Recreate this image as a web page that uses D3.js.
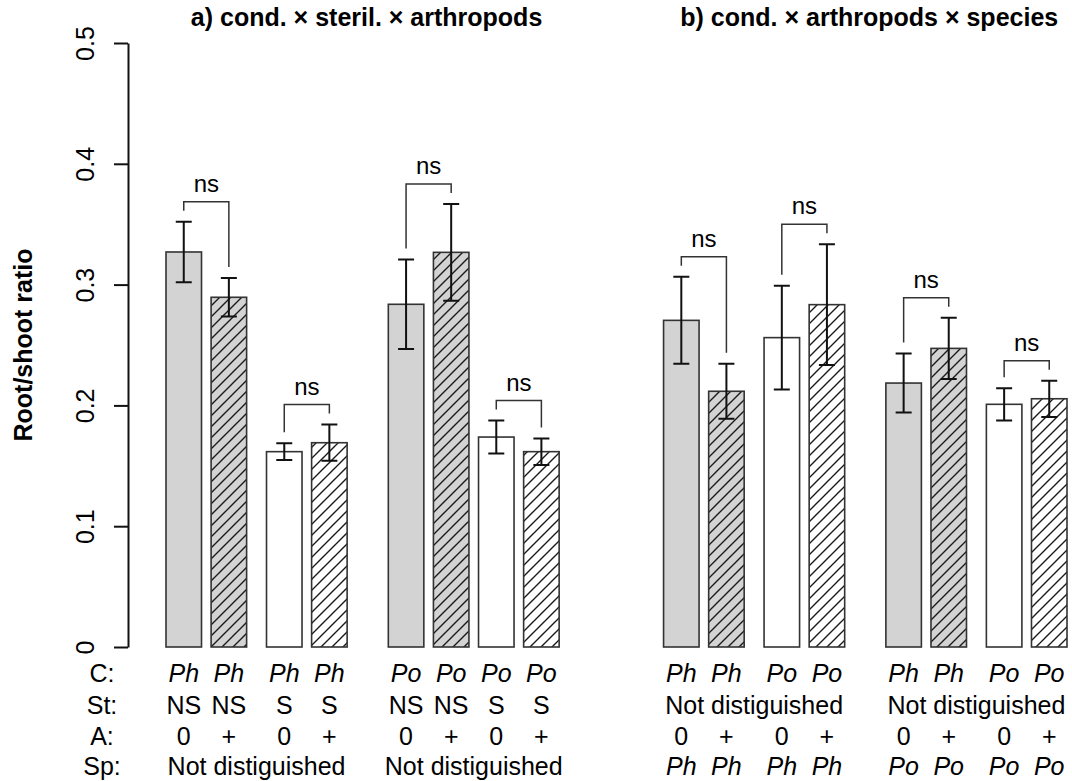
<!DOCTYPE html>
<html>
<head>
<meta charset="utf-8">
<script src="https://cdn.jsdelivr.net/npm/d3@7"></script>
<style>
  html, body { margin: 0; padding: 0; background: #fff; }
  svg { display: block; font-family: "Liberation Sans", Arial, Helvetica, sans-serif; }
</style>
</head>
<body>
<div id="chart"></div>
<script>
// ---- data ----
const panelTitles = ['a) cond. \u00d7 steril. \u00d7 arthropods', 'b) cond. \u00d7 arthropods \u00d7 species'];
const rowNames = ['C:', 'St:', 'A:', 'Sp:'];

const meansA = [0.327, 0.2895, 0.1617, 0.1691, 0.2837, 0.3267, 0.1738, 0.1617];
const seA    = [0.025, 0.016, 0.007, 0.015, 0.037, 0.040, 0.0137, 0.011];
const meansB = [0.2704, 0.2117, 0.2561, 0.2834, 0.2185, 0.2472, 0.2009, 0.2055];
const seB    = [0.036, 0.0227, 0.043, 0.050, 0.0244, 0.0254, 0.0134, 0.015];

// bar labels; a 2-entry row is one label per group of four bars
const condA = ['Ph', 'Ph', 'Ph', 'Ph', 'Po', 'Po', 'Po', 'Po'];
const sterA = ['NS', 'NS', 'S', 'S', 'NS', 'NS', 'S', 'S'];
const arthA = ['0', '+', '0', '+', '0', '+', '0', '+'];
const specA = ['Not distiguished', 'Not distiguished'];
const condB = ['Ph', 'Ph', 'Po', 'Po', 'Ph', 'Ph', 'Po', 'Po'];
const sterB = ['Not distiguished', 'Not distiguished'];
const arthB = ['0', '+', '0', '+', '0', '+', '0', '+'];
const specB = ['Ph', 'Ph', 'Ph', 'Ph', 'Po', 'Po', 'Po', 'Po'];

const pairLabelsA = ['ns', 'ns', 'ns', 'ns'];
const pairLabelsB = ['ns', 'ns', 'ns', 'ns'];

const yTicks = [0, 0.1, 0.2, 0.3, 0.4, 0.5];

// ---- layout ----
const W = 1072, H = 781;
const FONT = 25;
// space before each bar, in bar widths (like barplot's space argument)
const GAP = { none: 0, bar: 0.27, pair: 0.56, group: 1.16, panel: 2.94 };
const gapsA = ['none', 'bar', 'pair', 'bar', 'group', 'bar', 'bar', 'bar'];
const gapsB = ['panel', 'bar', 'pair', 'bar', 'group', 'bar', 'pair', 'bar'];

const panels = [
    { title: panelTitles[0], means: meansA, se: seA, gaps: gapsA, rows: [condA, sterA, arthA, specA], pairs: pairLabelsA },
    { title: panelTitles[1], means: meansB, se: seB, gaps: gapsB, rows: [condB, sterB, arthB, specB], pairs: pairLabelsB }
];

// cumulative bar positions in bar-width units
let u = 0;
panels.forEach(p => {
    p.start = [];
    p.gaps.forEach(g => {
        u += GAP[g];
        p.start.push(u);
        u += 1;
    });
});

const x = d3.scaleLinear().domain([0, u]).range([166, 1067]);
const y = d3.scaleLinear().domain([0, 0.5]).range([647, 43]);
const barW = x(1) - x(0);

const svg = d3.select('#chart').append('svg')
    .attr('width', W)
    .attr('height', H);

// hatch pattern
const defs = svg.append('defs');
defs.append('pattern')
    .attr('id', 'hatch')
    .attr('patternUnits', 'userSpaceOnUse')
    .attr('width', 11)
    .attr('height', 11)
    .append('path')
    .attr('d', 'M0,11 L11,0 M-3,3 L3,-3 M8,14 L14,8')
    .attr('stroke', '#1a1a1a')
    .attr('stroke-width', 1.4);

// y axis
const axis = svg.append('g')
    .attr('transform', 'translate(128,0)')
    .call(d3.axisLeft(y).tickValues(yTicks).tickSize(14).tickSizeOuter(0)
        .tickFormat(d => d === 0 ? '0' : d3.format('.1f')(d)));
axis.select('.domain').attr('stroke', '#111').attr('stroke-width', 2);
axis.selectAll('.tick line').attr('stroke', '#111').attr('stroke-width', 2);
axis.selectAll('.tick text')
    .attr('transform', 'rotate(-90)')
    .attr('x', 0)
    .attr('y', -34)
    .attr('dy', 0)
    .attr('text-anchor', 'middle')
    .attr('fill', '#000')
    .style('font-family', 'inherit')
    .style('font-size', FONT + 'px');

svg.append('text')
    .attr('transform', `translate(32,${(y(0) + y(0.5)) / 2}) rotate(-90)`)
    .attr('text-anchor', 'middle')
    .attr('font-weight', 'bold')
    .attr('font-size', FONT)
    .text('Root/shoot ratio');

// row names under the axis
const rowY = [682, 714, 745, 775];
rowNames.forEach((name, i) => {
    svg.append('text')
        .attr('x', 102)
        .attr('y', rowY[i])
        .attr('text-anchor', 'middle')
        .attr('font-size', FONT)
        .text(name);
});

const fills = ['#d3d3d3', '#d3d3d3', '#fff', '#fff'];
const hatched = [false, true, false, true];

panels.forEach(p => {
    const g = svg.append('g');
    const cx = p.start.map(s => x(s + 0.5));
    const errTop = p.means.map((m, i) => y(m + p.se[i]));

    // title
    g.append('text')
        .attr('x', (x(p.start[0]) + x(p.start[7] + 1)) / 2 + 4)
        .attr('y', 26)
        .attr('text-anchor', 'middle')
        .attr('font-weight', 'bold')
        .attr('font-size', FONT)
        .text(p.title);

    // bars
    p.means.forEach((m, i) => {
        const bx = x(p.start[i]);
        g.append('rect')
            .attr('x', bx).attr('y', y(m))
            .attr('width', barW).attr('height', y(0) - y(m))
            .attr('fill', fills[i % 4]);
        if (hatched[i % 4]) {
            g.append('rect')
                .attr('x', bx).attr('y', y(m))
                .attr('width', barW).attr('height', y(0) - y(m))
                .attr('fill', 'url(#hatch)');
        }
        g.append('rect')
            .attr('x', bx).attr('y', y(m))
            .attr('width', barW).attr('height', y(0) - y(m))
            .attr('fill', 'none')
            .attr('stroke', '#333')
            .attr('stroke-width', 1.6);
    });

    // error bars
    p.means.forEach((m, i) => {
        const lo = y(m - p.se[i]), hi = y(m + p.se[i]);
        g.append('path')
            .attr('d', `M${cx[i]},${lo}V${hi}M${cx[i] - 8},${hi}H${cx[i] + 8}M${cx[i] - 8},${lo}H${cx[i] + 8}`)
            .attr('fill', 'none')
            .attr('stroke', '#111')
            .attr('stroke-width', 2);
    });

    // pair brackets
    p.pairs.forEach((lab, k) => {
        const a = 2 * k, b = 2 * k + 1;
        const top = Math.min(errTop[a], errTop[b]) - 20;
        g.append('path')
            .attr('d', `M${cx[a]},${errTop[a] - 11}V${top}H${cx[b]}V${errTop[b] - 11}`)
            .attr('fill', 'none')
            .attr('stroke', '#333')
            .attr('stroke-width', 1.5);
        g.append('text')
            .attr('x', (cx[a] + cx[b]) / 2)
            .attr('y', top - 10)
            .attr('text-anchor', 'middle')
            .attr('font-size', 24)
            .text(lab);
    });

    // label rows
    p.rows.forEach((row, r) => {
        if (row.length === p.means.length) {
            row.forEach((t, i) => {
                g.append('text')
                    .attr('x', cx[i])
                    .attr('y', rowY[r])
                    .attr('text-anchor', 'middle')
                    .attr('font-size', FONT)
                    .attr('font-style', (r === 0 || r === 3) ? 'italic' : 'normal')
                    .text(t);
            });
        } else {
            row.forEach((t, k) => {
                g.append('text')
                    .attr('x', (x(p.start[4 * k]) + x(p.start[4 * k + 3] + 1)) / 2)
                    .attr('y', rowY[r])
                    .attr('text-anchor', 'middle')
                    .attr('font-size', FONT)
                    .text(t);
            });
        }
    });
});
</script>
</body>
</html>
